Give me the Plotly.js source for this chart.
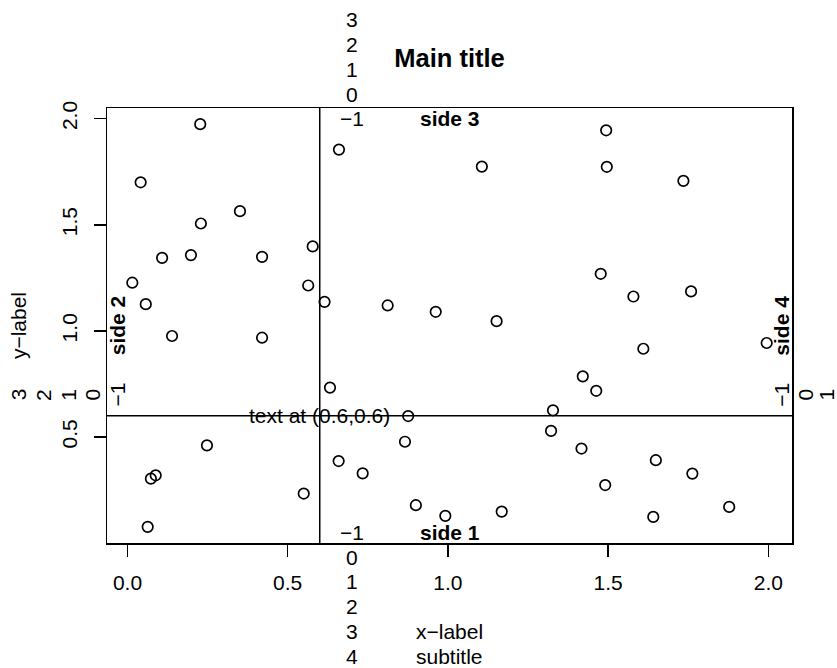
<!DOCTYPE html>
<html><head><meta charset="utf-8">
<script src="https://cdn.plot.ly/plotly-3.0.1.min.js"></script>
<style>html,body{margin:0;padding:0;background:#fff}</style>
</head><body><div id="chart" style="width:837px;height:668px"></div>
<script>
// ---- data ----
const xValues = [0.227,0.041,0.351,0.229,0.108,0.198,0.420,0.578,0.015,0.564,0.057,0.615,
  0.139,0.420,0.632,0.248,0.073,0.088,0.550,0.063,0.660,1.106,0.812,0.962,1.152,0.876,
  1.328,1.322,0.866,0.659,0.734,0.900,0.992,1.168,1.494,1.496,1.735,1.477,1.579,1.759,
  1.995,1.610,1.421,1.463,1.417,1.649,1.491,1.763,1.878,1.641];
const yValues = [1.974,1.700,1.564,1.506,1.344,1.357,1.349,1.398,1.227,1.214,1.126,1.137,
  0.976,0.968,0.733,0.461,0.304,0.320,0.234,0.077,1.854,1.774,1.120,1.090,1.046,0.599,
  0.626,0.529,0.478,0.387,0.329,0.179,0.129,0.149,1.945,1.773,1.707,1.269,1.162,1.186,
  0.943,0.916,0.786,0.718,0.446,0.391,0.274,0.328,0.171,0.124];
const xTickValues = [0, 0.5, 1, 1.5, 2];
const xTickLabels = ['0.0', '0.5', '1.0', '1.5', '2.0'];
const yTickValues = [0.5, 1, 1.5, 2];
const yTickLabels = ['0.5', '1.0', '1.5', '2.0'];
const side1Lines = [-1, 0, 1, 2, 3, 4];
const side2Lines = [-1, 0, 1, 2, 3];
const side3Lines = [-1, 0, 1, 2, 3];
const side4Lines = [-1, 0, 1];
const sideLabels = ['side 1', 'side 2', 'side 3', 'side 4'];
const mainTitle = 'Main title';
const xLabel = 'x\u2212label';
const yLabel = 'y\u2212label';
const subTitle = 'subtitle';
const refText = 'text at (0.6,0.6)';
const refX = 0.6, refY = 0.6;
const mtextAt = 0.7;

// ---- layout geometry (pixels) ----
const W = 837, H = 668;
const L = 107, R = 792, T = 108, B = 543;
const PW = R - L, PH = B - T;
const LH = 24.8;             // margin line height
const fam = 'Liberation Sans, Arial, sans-serif';
const fs = 21;
const px2paperX = px => (px - L) / PW;
const py2paperY = py => (B - py) / PH;
const lineOff = n => 14 + LH * n;  // centre distance of margin line n from frame
const lbl = n => n < 0 ? '\u2212' + Math.abs(n) : String(n);

const ann = [];
const base = {showarrow: false, font: {family: fam, size: fs, color: '#000'}, xanchor: 'center', yanchor: 'middle'};
// side 1 (bottom)
side1Lines.forEach(n => ann.push(Object.assign({}, base, {text: lbl(n), xref: 'x', x: mtextAt, yref: 'paper', y: py2paperY(B + lineOff(n))})));
// side 3 (top)
side3Lines.forEach(n => ann.push(Object.assign({}, base, {text: lbl(n), xref: 'x', x: mtextAt, yref: 'paper', y: py2paperY(T - lineOff(n))})));
// side 2 (left), rotated
side2Lines.forEach(n => ann.push(Object.assign({}, base, {text: lbl(n), textangle: -90, yref: 'y', y: mtextAt, xref: 'paper', x: px2paperX(L - lineOff(n))})));
// side 4 (right), rotated; keep the last visible line inside the canvas
side4Lines.forEach(n => ann.push(Object.assign({}, base, {text: lbl(n), textangle: -90, yref: 'y', y: mtextAt, xref: 'paper', x: px2paperX(Math.min(R + lineOff(n), W - 10))})));
// side labels (bold, line -1, centred)
const bold = {family: fam, size: fs, color: '#000', weight: 'bold'};
ann.push(Object.assign({}, base, {text: '<b>' + sideLabels[0] + '</b>', font: bold, xref: 'paper', x: 0.5, yref: 'paper', y: py2paperY(B + lineOff(-1))}));
ann.push(Object.assign({}, base, {text: '<b>' + sideLabels[1] + '</b>', font: bold, textangle: -90, xref: 'paper', x: px2paperX(L - lineOff(-1)), yref: 'paper', y: 0.5}));
ann.push(Object.assign({}, base, {text: '<b>' + sideLabels[2] + '</b>', font: bold, xref: 'paper', x: 0.5, yref: 'paper', y: py2paperY(T - lineOff(-1))}));
ann.push(Object.assign({}, base, {text: '<b>' + sideLabels[3] + '</b>', font: bold, textangle: -90, xref: 'paper', x: px2paperX(R + lineOff(-1)), yref: 'paper', y: 0.5}));
// axis labels
ann.push(Object.assign({}, base, {text: xLabel, xref: 'paper', x: 0.5, yref: 'paper', y: py2paperY(B + lineOff(3))}));
ann.push(Object.assign({}, base, {text: subTitle, xref: 'paper', x: 0.5, yref: 'paper', y: py2paperY(B + lineOff(4))}));
ann.push(Object.assign({}, base, {text: yLabel, textangle: -90, xref: 'paper', x: px2paperX(L - lineOff(3)), yref: 'paper', y: 0.5}));
// text at reference point
ann.push(Object.assign({}, base, {text: refText, xref: 'x', x: refX, yref: 'y', y: refY}));

const trace = {
  type: 'scatter', mode: 'markers', x: xValues, y: yValues,
  marker: {symbol: 'circle-open', size: 10.5, color: '#000', line: {width: 1.7, color: '#000'}},
  hoverinfo: 'skip', cliponaxis: false
};

const axisCommon = {
  showgrid: false, zeroline: false, showline: true, linecolor: '#000', linewidth: 1.5,
  mirror: true, ticks: 'outside', ticklen: 12, tickwidth: 1.5, tickcolor: '#000',
  tickfont: {family: fam, size: fs, color: '#000'}, tickmode: 'array', automargin: false,
  fixedrange: true
};

const layout = {
  width: W, height: H,
  margin: {l: L, r: W - R, t: T, b: H - B, pad: 0},
  paper_bgcolor: '#fff', plot_bgcolor: '#fff',
  showlegend: false,
  title: {text: '<b>' + mainTitle + '</b>', font: {family: fam, size: 25.5, color: '#000'},
          xref: 'paper', x: 0.5, xanchor: 'center', yref: 'container', y: 1 - 58 / H, yanchor: 'middle'},
  xaxis: Object.assign({}, axisCommon, {range: [-0.064, 2.074], tickvals: xTickValues, ticktext: xTickLabels, ticklabelstandoff: 8}),
  yaxis: Object.assign({}, axisCommon, {range: [0.001, 2.050], tickvals: yTickValues, ticktext: yTickLabels, tickangle: -90, ticklabelstandoff: 8}),
  shapes: [
    {type: 'line', xref: 'x', x0: refX, x1: refX, yref: 'paper', y0: 0, y1: 1, line: {color: '#000', width: 1.5}},
    {type: 'line', yref: 'y', y0: refY, y1: refY, xref: 'paper', x0: 0, x1: 1, line: {color: '#000', width: 1.5}}
  ],
  annotations: ann
};

Plotly.newPlot('chart', [trace], layout, {displayModeBar: false, staticPlot: true});
</script>
</body></html>
